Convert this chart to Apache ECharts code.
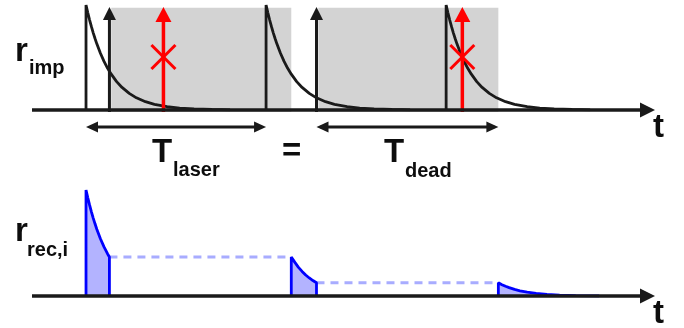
<!DOCTYPE html>
<html>
<head>
<meta charset="utf-8">
<script src="https://cdn.jsdelivr.net/npm/echarts@6/dist/echarts.min.js"></script>
<style>
  html, body { margin: 0; padding: 0; background: #ffffff; }
  #chart { width: 684px; height: 328px; }
</style>
</head>
<body>
<div id="chart"></div>
<script>
// Time in arbitrary units: one laser period = 100
const tMin = -30;
const tMax = 316;

// Excitation pulses and the fluorescence decay following each one
const laserPulses = [0, 100, 200];
const decayOffsets = [0, 1, 2, 3, 4, 5, 6, 8, 10, 12, 14, 17, 20, 24, 28, 33, 38, 45, 52, 60, 70, 80];
const decayLevels  = [1, 0.926, 0.857, 0.794, 0.735, 0.681, 0.63, 0.54, 0.463, 0.397, 0.341, 0.27, 0.215, 0.158, 0.116, 0.079, 0.054, 0.031, 0.018, 0.01, 0.005, 0.002];

// Photons: detected ones start a dead time, blocked ones fall inside it
const detectedPhotons = [13, 128];
const blockedPhotons = [43, 209];
const deadStarts = [14, 129];
const deadTime = 100;
const periodSpans = [[0, 100], [128, 229]];

// Recorded rate segments [t, r]
const recSeg1 = [[0, 0], [0, 1], [1, 0.926], [2, 0.857], [3, 0.794], [4, 0.735], [5, 0.681], [6, 0.63], [8, 0.54], [10, 0.463], [12, 0.397], [13, 0.368], [13, 0]];
const recSeg2 = [[114, 0], [114, 0.368], [116, 0.317], [118, 0.27], [120, 0.232], [122, 0.198], [124, 0.17], [126, 0.146], [128, 0.125], [128, 0]];
const recSeg3 = [[229, 0], [229, 0.125], [231, 0.107], [233, 0.092], [235, 0.079], [238, 0.062], [241, 0.049], [245, 0.036], [250, 0.025], [256, 0.015], [263, 0.009], [272, 0.004], [285, 0]];
// Held levels between recorded segments [tStart, tEnd, r]
const holdLevels = [[13, 114, 0.368], [128, 229, 0.125]];

const INK = '#1a1a1a';
const RED = '#ff0000';
const BLUE = '#0000ff';
const BLUE_FILL = '#b3b3ff';
const BLUE_DASH = '#a8acff';
const GRAY = '#d3d3d3';
const FONT = '"Liberation Sans", Arial, sans-serif';

const chart = echarts.init(document.getElementById('chart'), null, { renderer: 'canvas' });

// Axis with an arrowhead at the end
function axisSeries(idx) {
  return {
    type: 'custom', xAxisIndex: idx, yAxisIndex: idx, z: 10, clip: false, silent: true,
    data: [[tMin, tMax]],
    renderItem: function (params, api) {
      const a = api.coord([api.value(0), 0]);
      const b = api.coord([api.value(1), 0]);
      const head = 15, half = 7.5;
      return {
        type: 'group',
        children: [
          { type: 'line', shape: { x1: a[0], y1: a[1], x2: b[0] - head + 2, y2: b[1] },
            style: { stroke: INK, lineWidth: 3.5 } },
          { type: 'polygon', shape: { points: [[b[0], b[1]], [b[0] - head, b[1] - half], [b[0] - head, b[1] + half]] },
            style: { fill: INK } }
        ]
      };
    }
  };
}

// Vertical arrow from the baseline up to a level
function vArrowSeries(times, tip, color, width, headLen, headHalf, z, withCross) {
  return {
    type: 'custom', xAxisIndex: 0, yAxisIndex: 0, z: z, clip: false, silent: true,
    data: times.map(t => [t, tip]),
    renderItem: function (params, api) {
      const base = api.coord([api.value(0), 0]);
      const top = api.coord([api.value(0), api.value(1)]);
      const kids = [
        { type: 'line', shape: { x1: base[0], y1: base[1] + 2, x2: top[0], y2: top[1] + headLen - 1 },
          style: { stroke: color, lineWidth: width } },
        { type: 'polygon', shape: { points: [[top[0], top[1]], [top[0] - headHalf, top[1] + headLen], [top[0] + headHalf, top[1] + headLen]] },
          style: { fill: color } }
      ];
      if (withCross) {
        const c = api.coord([api.value(0), 0.505]);
        const s = 12;
        kids.push({ type: 'line', shape: { x1: c[0] - s, y1: c[1] - s, x2: c[0] + s, y2: c[1] + s }, style: { stroke: color, lineWidth: 3 } });
        kids.push({ type: 'line', shape: { x1: c[0] - s, y1: c[1] + s, x2: c[0] + s, y2: c[1] - s }, style: { stroke: color, lineWidth: 3 } });
      }
      return { type: 'group', children: kids };
    }
  };
}

const series = [];

// Dead-time windows
series.push({
  type: 'custom', xAxisIndex: 0, yAxisIndex: 0, z: 1, clip: false, silent: true,
  data: deadStarts.map(s => [s, s + deadTime]),
  renderItem: function (params, api) {
    const a = api.coord([api.value(0), 0.975]);
    const b = api.coord([api.value(1), -0.02]);
    return { type: 'rect', shape: { x: a[0], y: a[1], width: b[0] - a[0], height: b[1] - a[1] }, style: { fill: GRAY } };
  }
});

// Fluorescence decay after each laser pulse
laserPulses.forEach(p => {
  const pts = [[p, 0]].concat(decayOffsets.map((o, i) => [p + o, decayLevels[i]]));
  series.push({
    type: 'line', xAxisIndex: 0, yAxisIndex: 0, z: 3, data: pts,
    symbol: 'none', silent: true, lineStyle: { color: INK, width: 2.8 }
  });
});

series.push(vArrowSeries(detectedPhotons, 0.98, INK, 3, 13, 6.5, 4, false));
series.push(vArrowSeries(blockedPhotons, 0.98, RED, 3.5, 15, 8, 5, true));
series.push(axisSeries(0));

// Period brackets below the upper axis
series.push({
  type: 'custom', xAxisIndex: 0, yAxisIndex: 0, z: 6, clip: false, silent: true,
  data: periodSpans,
  renderItem: function (params, api) {
    const a = api.coord([api.value(0), -0.162]);
    const b = api.coord([api.value(1), -0.162]);
    const h = 12, w = 5.5;
    return {
      type: 'group',
      children: [
        { type: 'line', shape: { x1: a[0] + 4, y1: a[1], x2: b[0] - 4, y2: b[1] }, style: { stroke: INK, lineWidth: 2.8 } },
        { type: 'polygon', shape: { points: [[a[0], a[1]], [a[0] + h, a[1] - w], [a[0] + h, a[1] + w]] }, style: { fill: INK } },
        { type: 'polygon', shape: { points: [[b[0], b[1]], [b[0] - h, b[1] - w], [b[0] - h, b[1] + w]] }, style: { fill: INK } }
      ]
    };
  }
});

// Held levels (dashed)
holdLevels.forEach(h => {
  series.push({
    type: 'line', xAxisIndex: 1, yAxisIndex: 1, z: 2, data: [[h[0], h[2]], [h[1], h[2]]],
    symbol: 'none', silent: true, lineStyle: { color: BLUE_DASH, width: 3, type: [8, 6] }
  });
});

// Recorded segments
[recSeg1, recSeg2, recSeg3].forEach(seg => {
  series.push({
    type: 'line', xAxisIndex: 1, yAxisIndex: 1, z: 3, data: seg,
    symbol: 'none', silent: true,
    lineStyle: { color: BLUE, width: 2.8 },
    areaStyle: { color: BLUE_FILL, opacity: 1 }
  });
});
series.push(axisSeries(1));

function label(text, x, baseline, size) {
  return {
    type: 'text', x: x, y: baseline - 0.3465 * size, z: 20,
    style: { text: text, fill: '#0d0d0d', font: 'bold ' + size + 'px ' + FONT, verticalAlign: 'middle', align: 'left' }
  };
}

const option = {
  animation: false,
  backgroundColor: '#ffffff',
  grid: [
    { left: 32, right: 29, top: 5, height: 105 },
    { left: 32, right: 29, top: 190, height: 106 }
  ],
  xAxis: [
    { type: 'value', gridIndex: 0, min: tMin, max: tMax, show: false },
    { type: 'value', gridIndex: 1, min: tMin, max: tMax, show: false }
  ],
  yAxis: [
    { type: 'value', gridIndex: 0, min: 0, max: 1, show: false },
    { type: 'value', gridIndex: 1, min: 0, max: 1, show: false }
  ],
  series: series,
  graphic: [
    label('r', 15, 63, 33),
    label('imp', 29, 75, 20),
    label('r', 15, 243, 33),
    label('rec,i', 27, 257, 20),
    label('T', 152, 164, 33),
    label('laser', 173, 177, 20),
    label('=', 282, 163, 33),
    label('T', 384, 164, 33),
    label('dead', 405, 178, 20),
    label('t', 653, 139, 33),
    label('t', 653, 325, 33)
  ]
};

chart.setOption(option);
</script>
</body>
</html>
